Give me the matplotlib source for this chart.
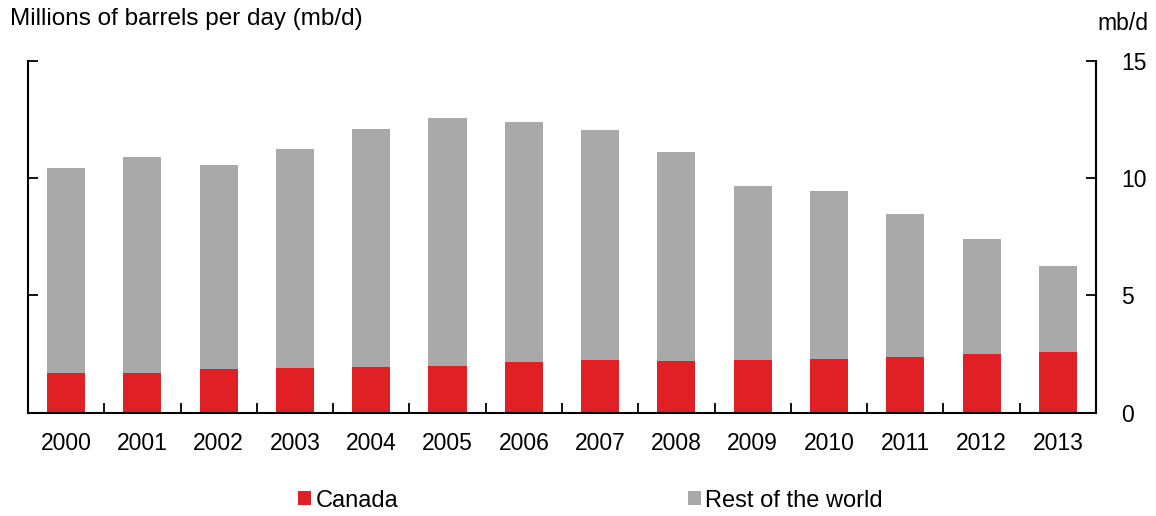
import numpy as np
import matplotlib
matplotlib.use('Agg')
import matplotlib.pyplot as plt
from matplotlib.patches import Patch

plt.rcParams['font.family'] = ['Liberation Sans', 'DejaVu Sans']

# Данные (mb/d)
years = ['2000', '2001', '2002', '2003', '2004', '2005', '2006',
         '2007', '2008', '2009', '2010', '2011', '2012', '2013']
canada = [1.70, 1.70, 1.85, 1.90, 1.97, 1.98, 2.15, 2.25, 2.20, 2.25, 2.29, 2.37, 2.50, 2.58]
rest_of_world = [8.74, 9.21, 8.73, 9.35, 10.13, 10.59, 10.25, 9.81, 8.92, 7.42, 7.17, 6.11, 4.91, 3.68]

red = '#e02024'
grey = '#a9a9a9'

fig = plt.figure(figsize=(11.56, 5.16), dpi=100)
ax = fig.add_axes([0.0242, 0.2, 0.9239, 0.682])

x = np.arange(len(years))
ax.bar(x, canada, width=0.5, color=red, edgecolor='none')
ax.bar(x, rest_of_world, width=0.5, bottom=canada, color=grey, edgecolor='none')

ax.set_xlim(-0.5, len(years) - 0.5)
ax.set_ylim(0, 15)

# оси
for s in ['left', 'right', 'bottom']:
    ax.spines[s].set_linewidth(1.5)
    ax.spines[s].set_color('black')
ax.spines['top'].set_visible(False)

ax.yaxis.tick_right()
ax.set_yticks([0, 5, 10, 15])
ax.tick_params(axis='y', which='both', direction='in', length=7, width=1.3,
               labelsize=16.5, pad=18, left=True, right=True, labelleft=False, labelright=True)

ax.set_xticks(x)
ax.set_xticklabels(years)
ax.tick_params(axis='x', which='major', length=0, labelsize=16.5, pad=14)
ax.set_xticks(np.arange(0.5, len(years) - 1, 1), minor=True)
ax.tick_params(axis='x', which='minor', direction='in', length=7, width=1.3)

fig.text(0.0087, 0.963, 'Millions of barrels per day (mb/d)', fontsize=17.5, va='center', ha='left')
fig.text(0.949, 0.955, 'mb/d', fontsize=16.5, va='center', ha='left')

handles = [Patch(facecolor=red, edgecolor='none'), Patch(facecolor=grey, edgecolor='none')]
fig.legend(handles, ['Canada', 'Rest of the world'], loc='center left', ncol=2,
           bbox_to_anchor=(0.2393, 0.03), frameon=False, fontsize=17,
           handlelength=0.55, handleheight=0.55, handletextpad=0.2, columnspacing=12.25)

fig.savefig('out.png', dpi=100)
